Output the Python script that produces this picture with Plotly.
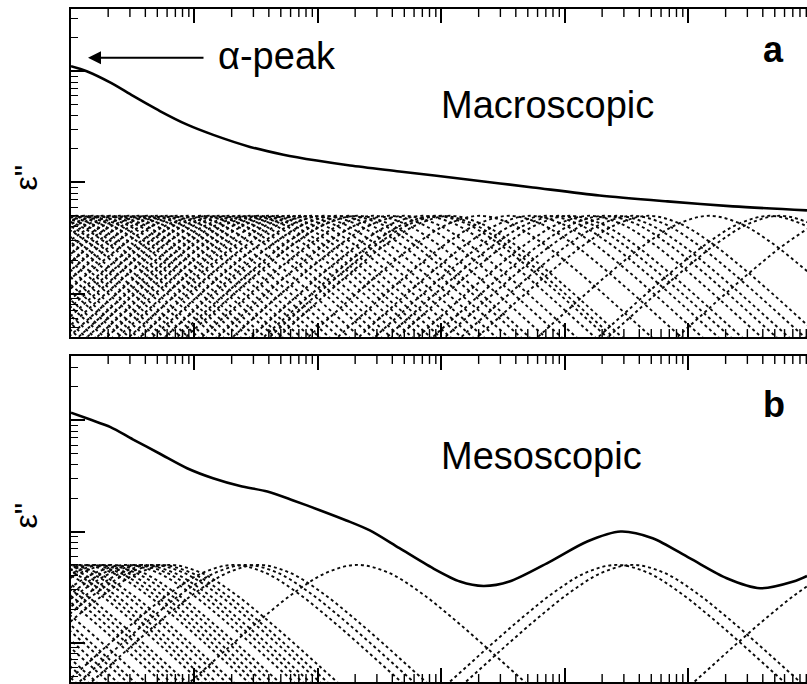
import math
import plotly.graph_objects as go

# ---------------- data (log10 units) ----------------
# Panel a: macroscopic loss curve (log10 f, log10 eps'')
macro_logf = [0.0, 0.127, 0.324, 0.503, 0.72, 0.936, 1.152, 1.45, 1.72, 1.99, 2.26, 2.66,
              3.21, 3.74, 4.28, 4.83, 5.36, 5.96]
macro_logeps = [1.045, 1.00, 0.895, 0.778, 0.642, 0.522, 0.428, 0.32, 0.25, 0.197, 0.152,
                0.099, 0.027, -0.045, -0.117, -0.170, -0.215, -0.251]

# Panel b: mesoscopic loss curve
meso_logf = [0.0, 0.15, 0.32, 0.50, 0.72, 0.94, 1.15, 1.37, 1.59, 1.80, 2.02, 2.23, 2.42,
             2.66, 2.93, 3.15, 3.34, 3.55, 3.88, 4.18, 4.45, 4.71, 5.01, 5.31, 5.58, 5.85, 5.96]
meso_logeps = [1.07, 1.01, 0.94, 0.83, 0.70, 0.57, 0.48, 0.41, 0.36, 0.28, 0.19, 0.10, 0.01,
               -0.15, -0.33, -0.45, -0.49, -0.45, -0.27, -0.09, 0.00, -0.06, -0.24, -0.42,
               -0.51, -0.45, -0.40]

# Single relaxation (Debye) peaks: centres in log10 f
macro_peak_centres = [-1.40, -1.33, -1.27, -1.20, -1.12, -1.06, -0.98, -0.92, -0.85, -0.78,
                      -0.70, -0.64, -0.57, -0.50, -0.44, -0.36, -0.30, -0.22, -0.16, -0.09,
                      -0.02, 0.05, 0.11, 0.18, 0.26, 0.32, 0.40, 0.47, 0.55, 0.62, 0.70,
                      0.78, 0.86, 0.95, 1.05, 1.12, 1.20, 1.28, 1.37, 1.45, 1.52, 1.60,
                      1.68, 1.77, 1.86, 1.95, 2.05, 2.15, 2.25, 2.32, 2.45, 2.58, 2.70,
                      2.85, 2.95, 3.00, 3.07, 3.31, 3.55, 3.72, 3.85, 3.95, 4.04, 4.20,
                      4.32, 4.42, 4.55, 4.68, 5.17, 5.66, 5.74, 6.30]
meso_peak_centres = [-1.40, -1.32, -1.22, -1.15, -1.05, -0.98, -0.90, -0.84, -0.75, -0.62,
                     -0.55, -0.48, -0.42, -0.30, -0.24, -0.18, -0.10, -0.04, 0.08, 0.14,
                     0.20, 0.27, 0.33, 0.45, 0.52, 0.58, 0.66, 0.72, 0.80, 1.32, 1.42,
                     1.52, 2.32, 4.42, 4.55, 6.40]

# shape of one peak: offset (decades) and drop below the top (decades)
peak_top_log = -0.30
peak_shape_dx = [-2.0, -1.75, -1.5, -1.25, -1.0, -0.75, -0.5, -0.25, 0.0,
                 0.25, 0.5, 0.75, 1.0, 1.25, 1.5, 1.75, 2.0]
peak_shape_drop = [-1.70, -1.45, -1.20, -0.95, -0.70, -0.46, -0.24, -0.07, 0.0,
                   -0.07, -0.24, -0.46, -0.70, -0.95, -1.20, -1.45, -1.70]

decade_ticks = [1.0, 10.0, 100.0, 1000.0, 1e4, 1e5]
x_minor_ticks = [float(m) * 10.0 ** k for k in range(0, 6) for m in range(2, 10)]
y_decade_ticks = [0.1, 1.0, 10.0]
y_minor_ticks = [float(m) * 10.0 ** k for k in range(-2, 2) for m in range(2, 10)]

X_RANGE = [0, 5.96]
YA_RANGE = [-1.39, 1.56]
YB_RANGE = [-1.354, 1.58]

# ---------------- figure ----------------
fig = go.Figure()


def peaks_xy(centres):
    xs, ys = [], []
    for c in centres:
        for dx, dr in zip(peak_shape_dx, peak_shape_drop):
            xs.append(10 ** (c + dx))
            ys.append(10 ** (peak_top_log + dr))
        xs.append(None)
        ys.append(None)
    return xs, ys


dash_line = dict(color="#0a0a0a", width=1.9, dash="3px,3px", shape="spline")
for centres, xa, ya in [(macro_peak_centres, "x", "y"), (meso_peak_centres, "x2", "y2")]:
    px_, py_ = peaks_xy(centres)
    fig.add_trace(go.Scatter(x=px_, y=py_, mode="lines", line=dash_line,
                             xaxis=xa, yaxis=ya, showlegend=False, hoverinfo="skip"))

solid = dict(color="black", width=2.6, shape="spline", smoothing=0.8)
fig.add_trace(go.Scatter(x=[10 ** v for v in macro_logf], y=[10 ** v for v in macro_logeps],
                         mode="lines", line=solid, xaxis="x", yaxis="y", showlegend=False))
fig.add_trace(go.Scatter(x=[10 ** v for v in meso_logf], y=[10 ** v for v in meso_logeps],
                         mode="lines", line=solid, xaxis="x2", yaxis="y2", showlegend=False))

xmain = dict(type="log", range=X_RANGE, side="top", showline=True, linecolor="black",
             linewidth=2, mirror="ticks", ticks="inside", ticklen=14, tickwidth=1.6,
             tickcolor="black", tickmode="array", tickvals=decade_ticks,
             showticklabels=False, showgrid=False, zeroline=False)
ycommon = dict(type="log", showline=True, linecolor="black", linewidth=2, mirror=False,
               ticks="inside", ticklen=14, tickwidth=1.6, tickcolor="black",
               tickmode="array", tickvals=y_decade_ticks, showticklabels=False,
               showgrid=False, zeroline=False,
               minor=dict(tickmode="array", tickvals=y_minor_ticks, ticks="inside",
                          ticklen=7, tickwidth=1.3, tickcolor="black", showgrid=False))

L, T, W, H = 71, 9, 736, 675


def px(xp):
    return (xp - L) / W


def py(yp):
    return 1 - (yp - T) / H


# minor frequency ticks (inside, top and bottom of each panel), placed on the
# axis domain at the fraction given by the axis range
span = X_RANGE[1] - X_RANGE[0]
shapes = []
for xref, yref, panel_h in [("x domain", "y domain", 329), ("x2 domain", "y2 domain", 327)]:
    frac = 8.0 / panel_h
    for v in x_minor_ticks:
        fx = (math.log10(v) - X_RANGE[0]) / span
        if fx > 1:
            continue
        for y0, y1 in [(1.0, 1.0 - frac), (0.0, frac)]:
            shapes.append(dict(type="line", xref=xref, yref=yref, x0=fx, x1=fx, y0=y0, y1=y1,
                               line=dict(color="black", width=1.4), layer="above"))

fig.update_layout(
    width=807, height=684,
    margin=dict(l=L, r=0, t=T, b=0, pad=0),
    paper_bgcolor="white", plot_bgcolor="white",
    xaxis=dict(xmain, anchor="y", domain=[0, 1]),
    xaxis2=dict(xmain, anchor="y2", domain=[0, 1]),
    yaxis=dict(ycommon, range=YA_RANGE, anchor="x", domain=[py(338), 1]),
    yaxis2=dict(ycommon, range=YB_RANGE, anchor="x2", domain=[0, py(357)]),
    font=dict(family="Liberation Sans, Arial, sans-serif", color="black"),
    shapes=shapes,
)

big = dict(family="Liberation Sans, Arial, sans-serif", size=38, color="black")
bold = dict(family="Liberation Sans, Arial, sans-serif", size=36, color="black", weight="bold")
eps_font = dict(family="Liberation Sans, Arial, sans-serif", size=32, color="black")
ann = [
    dict(text="α-peak", x=px(216), y=py(56), xanchor="left", yanchor="middle", font=big),
    dict(text="Macroscopic", x=px(439), y=py(105), xanchor="left", yanchor="middle", font=big),
    dict(text="Mesoscopic", x=px(439), y=py(457), xanchor="left", yanchor="middle", font=big),
    dict(text="<b>a</b>", x=px(773), y=py(50), xanchor="center", yanchor="middle", font=bold),
    dict(text="<b>b</b>", x=px(774), y=py(406), xanchor="center", yanchor="middle", font=bold),
    dict(text='ε"', x=px(26), y=py(178), xanchor="center", yanchor="middle", textangle=-90,
         font=eps_font),
    dict(text='ε"', x=px(26), y=py(517), xanchor="center", yanchor="middle", textangle=-90,
         font=eps_font),
    dict(text="", x=px(88), y=py(58), showarrow=True, ax=117, ay=0, arrowhead=2,
         arrowsize=1.3, arrowwidth=2, arrowcolor="black"),
]
for a in ann:
    a.setdefault("xref", "paper")
    a.setdefault("yref", "paper")
    a.setdefault("showarrow", False)
fig.update_layout(annotations=ann)

fig.write_html("out.html")
